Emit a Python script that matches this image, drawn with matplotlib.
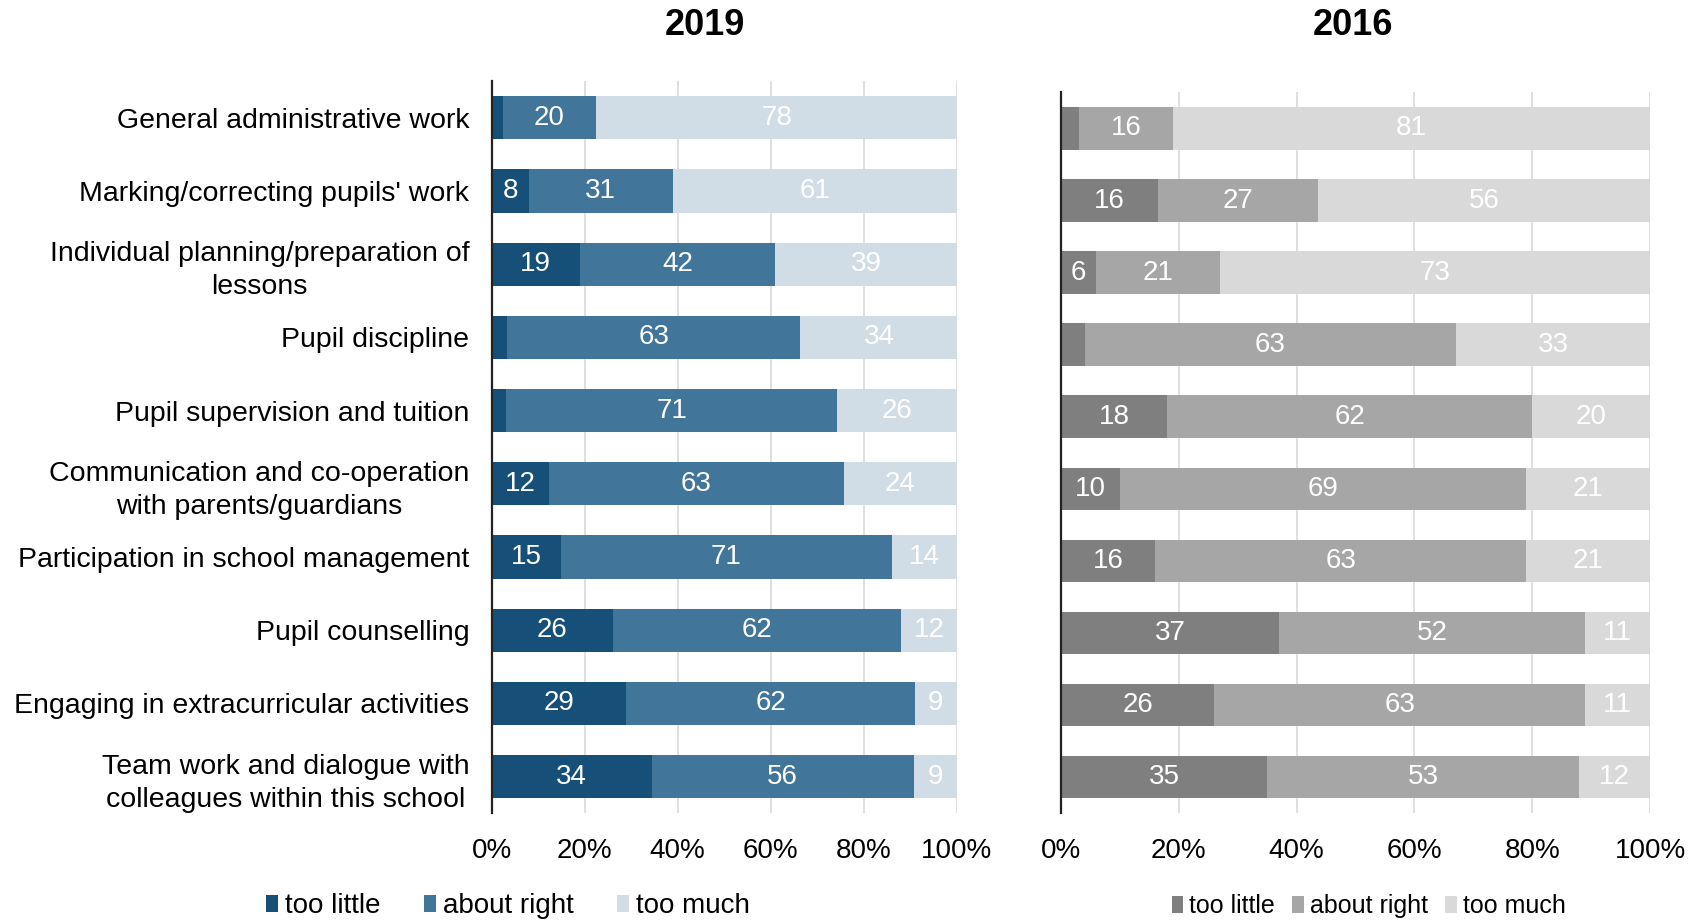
import numpy as np
import matplotlib
matplotlib.use("Agg")
import matplotlib.pyplot as plt
from matplotlib.patches import Patch

plt.rcParams["font.family"] = ["Liberation Sans", "DejaVu Sans"]

categories = [
    "General administrative work",
    "Marking/correcting pupils' work",
    "Individual planning/preparation of\nlessons",
    "Pupil discipline",
    "Pupil supervision and tuition",
    "Communication and co-operation\nwith parents/guardians",
    "Participation in school management",
    "Pupil counselling",
    "Engaging in extracurricular activities",
    "Team work and dialogue with\ncolleagues within this school",
]
series_names = ["too little", "about right", "too much"]

# shares in percent; labels show the rounded figure
little_2019 = [2.4, 8, 19, 3.4, 3.2, 12.4, 15, 26, 29, 34.4]
right_2019 = [20, 31, 42, 63, 71, 63.3, 71, 62, 62, 56.3]
much_2019 = [78, 61, 39, 34, 26, 24.3, 14, 12, 9, 9.3]

little_2016 = [3, 16.4, 6, 4, 18, 10, 16, 37, 26, 35]
right_2016 = [16, 27.3, 21, 63, 62, 69, 63, 52, 63, 53]
much_2016 = [81, 56.3, 73, 33, 20, 21, 21, 11, 11, 12]

xticks = [0, 20, 40, 60, 80, 100]
xtick_labels = ["0%", "20%", "40%", "60%", "80%", "100%"]

blues = ["#164f78", "#41759a", "#d1dde6"]
greys = ["#7f7f7f", "#a6a6a6", "#d9d9d9"]

fig = plt.figure(figsize=(16.95, 9.24), dpi=100)
ax_l = fig.add_axes([0.290, 0.120, 0.2745, 0.792])
ax_r = fig.add_axes([0.626, 0.120, 0.3475, 0.780])


def draw_panel(ax, parts, colors, show_labels, min_label):
    y = np.arange(len(categories))
    left = np.zeros(len(categories))
    for vals, col in zip(parts, colors):
        vals = np.array(vals, dtype=float)
        bars = ax.barh(y, vals, left=left, height=0.59, color=col, zorder=2)
        for b, v in zip(bars, vals):
            if v >= min_label:
                ax.text(b.get_x() + b.get_width() / 2, b.get_y() + b.get_height() / 2,
                        f"{round(v)}", ha="center", va="center", color="white",
                        fontsize=20, zorder=3)
        left += vals
    ax.set_xlim(0, 100)
    ax.set_ylim(len(categories) - 0.5, -0.5)
    ax.set_xticks(xticks)
    ax.set_xticklabels(xtick_labels, fontsize=20)
    ax.tick_params(axis="x", length=0, pad=18)
    ax.xaxis.grid(True, color="#d9d9d9", linewidth=1.2, zorder=0)
    ax.set_axisbelow(True)
    for s in ["top", "right", "bottom"]:
        ax.spines[s].set_visible(False)
    ax.spines["left"].set_color("#222222")
    ax.spines["left"].set_linewidth(1.6)
    ax.spines["left"].set_zorder(4)
    ax.set_yticks(np.arange(len(categories)))
    if show_labels:
        ax.set_yticklabels(categories, fontsize=20.5, ha="right",
                           multialignment="center", linespacing=1.35)
        ax.tick_params(axis="y", length=0, pad=16)
    else:
        ax.set_yticklabels([])
        ax.tick_params(axis="y", length=0)


draw_panel(ax_l, [little_2019, right_2019, much_2019], blues, True, 5)
draw_panel(ax_r, [little_2016, right_2016, much_2016], greys, False, 5)

fig.text(0.416, 0.972, "2019", ha="center", va="center", fontsize=26, fontweight="bold")
fig.text(0.798, 0.972, "2016", ha="center", va="center", fontsize=26, fontweight="bold")

# legends: the 2016 one is set tighter
fig.legend(handles=[Patch(facecolor=c, label=n) for c, n in zip(blues, series_names)],
           loc="center left", bbox_to_anchor=(0.142, 0.019), ncol=3, frameon=False,
           fontsize=20, handlelength=0.45, handleheight=0.6, handletextpad=0.25,
           columnspacing=1.55)
fig.legend(handles=[Patch(facecolor=c, label=n) for c, n in zip(greys, series_names)],
           loc="center left", bbox_to_anchor=(0.678, 0.019), ncol=3, frameon=False,
           fontsize=18, handlelength=0.45, handleheight=0.65, handletextpad=0.25,
           columnspacing=0.7)

fig.savefig("out.png", dpi=100, facecolor="white")
